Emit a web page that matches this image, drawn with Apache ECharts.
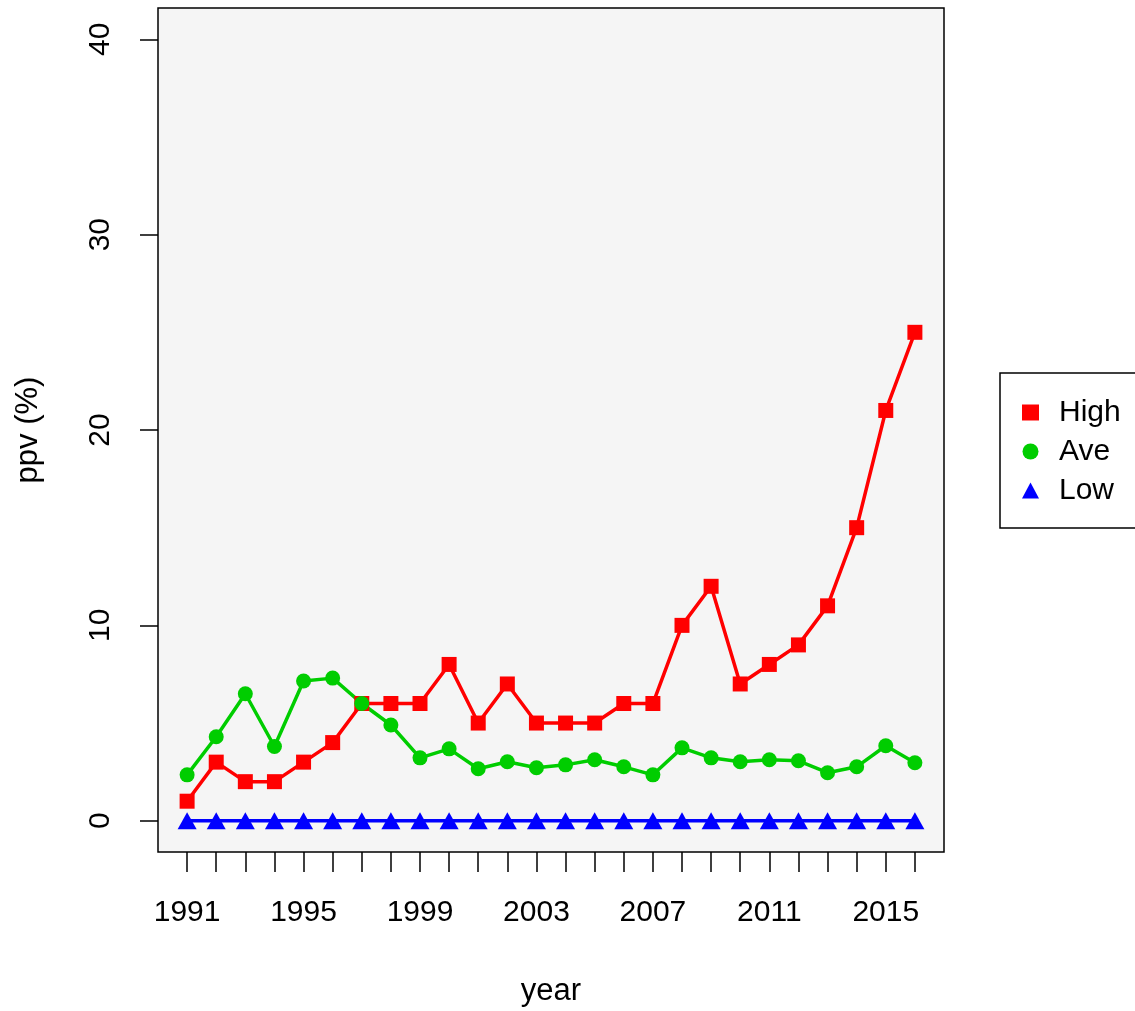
<!DOCTYPE html>
<html>
<head>
    <meta charset="utf-8">
    <script src="https://cdn.jsdelivr.net/npm/echarts@6/dist/echarts.min.js"></script>
    <style>
        html, body { margin: 0; padding: 0; background: #fff; }
        #main { width: 1135px; height: 1011px; }
    </style>
</head>
<body>
<div id="main"></div>
<script>
    // values
    var years = [1991, 1992, 1993, 1994, 1995, 1996, 1997, 1998, 1999, 2000, 2001, 2002, 2003,
        2004, 2005, 2006, 2007, 2008, 2009, 2010, 2011, 2012, 2013, 2014, 2015, 2016];
    var high = [1, 3, 2, 2, 3, 4, 6, 6, 6, 8, 5, 7, 5, 5, 5, 6, 6, 10, 12, 7, 8, 9, 11, 15, 21, 25];
    var ave = [2.35, 4.3, 6.5, 3.8, 7.15, 7.3, 6.0, 4.9, 3.22, 3.68, 2.66, 3.02, 2.71,
        2.86, 3.12, 2.76, 2.35, 3.73, 3.22, 3.02, 3.12, 3.07, 2.46, 2.76, 3.84, 2.97];
    var low = [0, 0, 0, 0, 0, 0, 0, 0, 0, 0, 0, 0, 0, 0, 0, 0, 0, 0, 0, 0, 0, 0, 0, 0, 0, 0];
    var xTickLabels = [1991, 1995, 1999, 2003, 2007, 2011, 2015];
    var yTicks = [0, 10, 20, 30, 40];

    var font = 'Liberation Sans, Arial, sans-serif';

    function pairs(vals) {
        return years.map(function (y, i) { return [y, vals[i]]; });
    }

    var chart = echarts.init(document.getElementById('main'), null, {renderer: 'canvas'});

    var option = {
        animation: false,
        backgroundColor: '#ffffff',
        textStyle: {fontFamily: font},
        grid: {
            left: 158,
            top: 8,
            width: 786,
            height: 844,
            outerBoundsMode: 'none',
            containLabel: false,
            show: true,
            backgroundColor: '#f5f5f5',
            borderColor: '#000',
            borderWidth: 1.5
        },
        legend: {
            orient: 'vertical',
            left: 1000,
            top: 373,
            padding: [24, 60, 22, 22],
            borderColor: '#000',
            borderWidth: 1.5,
            itemWidth: 17,
            itemHeight: 16,
            itemGap: 8,
            textStyle: {
                fontFamily: font, fontSize: 30, lineHeight: 31, color: '#000',
                padding: [0, 0, 0, 15]
            },
            data: [
                {name: 'High', icon: 'rect', itemStyle: {borderWidth: 0}},
                {name: 'Ave', icon: 'circle'},
                {name: 'Low', icon: 'triangle'}
            ]
        },
        xAxis: {
            type: 'value',
            min: 1990,
            max: 2017,
            name: 'year',
            nameLocation: 'middle',
            nameGap: 124,
            nameTextStyle: {fontFamily: font, fontSize: 31, color: '#000'},
            splitLine: {show: false},
            axisLine: {show: false, onZero: false},
            axisTick: {
                show: true,
                length: 20,
                customValues: years,
                lineStyle: {color: '#000', width: 1.5}
            },
            axisLabel: {
                customValues: xTickLabels,
                margin: 46,
                fontFamily: font,
                fontSize: 30,
                color: '#000',
                formatter: function (v) { return String(v); }
            }
        },
        yAxis: {
            type: 'value',
            min: -1.6,
            max: 41.6,
            name: 'ppv (%)',
            nameLocation: 'middle',
            nameGap: 114,
            nameTextStyle: {fontFamily: font, fontSize: 31, color: '#000'},
            splitLine: {show: false},
            axisLine: {show: false, onZero: false},
            axisTick: {
                show: true,
                length: 18,
                customValues: yTicks,
                lineStyle: {color: '#000', width: 1.5}
            },
            axisLabel: {
                customValues: yTicks,
                rotate: 90,
                margin: 42,
                fontFamily: font,
                fontSize: 30,
                color: '#000'
            }
        },
        series: [
            {
                name: 'High',
                type: 'line',
                data: pairs(high),
                symbol: 'rect',
                symbolSize: 15,
                lineStyle: {color: '#ff0000', width: 3.5},
                itemStyle: {color: '#ff0000'}
            },
            {
                name: 'Ave',
                type: 'line',
                data: pairs(ave),
                symbol: 'circle',
                symbolSize: 15,
                lineStyle: {color: '#00cd00', width: 3.5},
                itemStyle: {color: '#00cd00'}
            },
            {
                name: 'Low',
                type: 'line',
                data: pairs(low),
                symbol: 'triangle',
                symbolSize: [19, 17],
                lineStyle: {color: '#0000ff', width: 3.5},
                itemStyle: {color: '#0000ff'}
            }
        ]
    };

    chart.setOption(option);
</script>
</body>
</html>
